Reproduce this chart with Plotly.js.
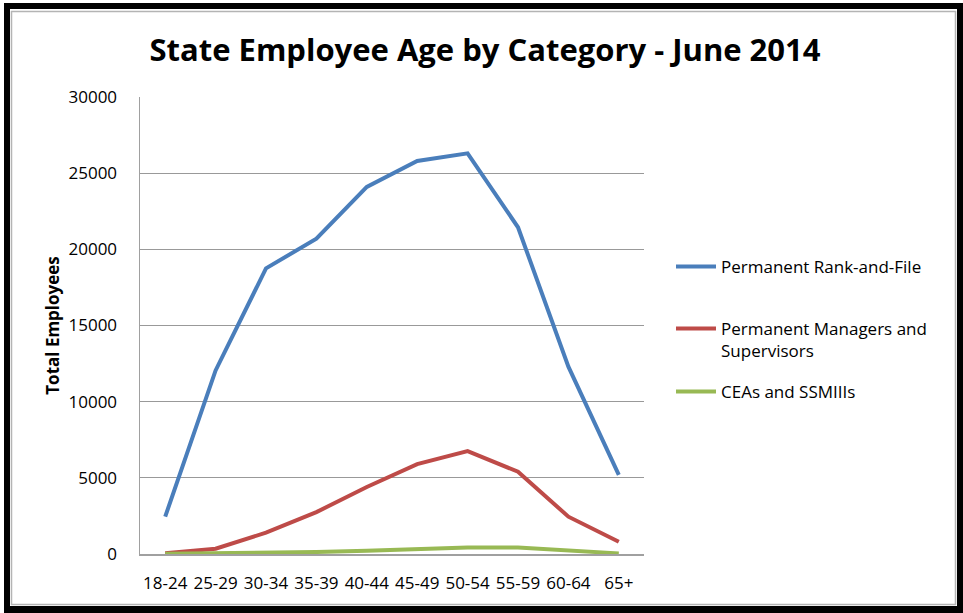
<!DOCTYPE html>
<html>
<head>
<meta charset="utf-8">
<script src="https://cdn.plot.ly/plotly-3.0.1.min.js"></script>
<style>
  html, body { margin: 0; padding: 0; background: #ffffff; }
  #chart { width: 963px; height: 613px; }
</style>
</head>
<body>
<div id="chart"></div>
<script>
// ---- data ----
const ageGroups = ['18-24', '25-29', '30-34', '35-39', '40-44', '45-49', '50-54', '55-59', '60-64', '65+'];
const rankAndFile = [2450, 12050, 18750, 20700, 24100, 25800, 26300, 21450, 12300, 5200];
const managersSupervisors = [50, 350, 1400, 2750, 4400, 5900, 6750, 5400, 2450, 800];
const ceasSsmiii = [10, 30, 60, 130, 220, 330, 430, 430, 220, 40];
const seriesNames = ['Permanent Rank-and-File', 'Permanent Managers and<br>Supervisors', 'CEAs and SSMIIIs'];
const yTickValues = [0, 5000, 10000, 15000, 20000, 25000, 30000];

// ---- layout geometry (pixels) ----
const W = 963, H = 613;
const L = 140, R = 644, T = 97, B = 554;
const px = x => (x - L) / (R - L);
const py = y => (B - y) / (B - T);

const FONT = 'Open Sans, Liberation Sans, sans-serif';

function trace(y, name, color, legendId) {
  return {
    type: 'scatter', mode: 'lines', x: ageGroups, y: y, name: name,
    line: { color: color, width: 4 }, legend: legendId,
    hoverinfo: 'x+y+name'
  };
}

const data = [
  trace(rankAndFile, seriesNames[0], '#4a7ebb', 'legend'),
  trace(managersSupervisors, seriesNames[1], '#be4b48', 'legend2'),
  trace(ceasSsmiii, seriesNames[2], '#98b954', 'legend3')
];

function legendAt(yCenter) {
  return {
    x: px(671), xanchor: 'left', y: py(yCenter), yanchor: 'middle',
    bgcolor: 'rgba(0,0,0,0)', borderwidth: 0, valign: 'top',
    font: { family: FONT, size: 17, color: '#000' }, itemwidth: 40
  };
}

// frame shapes (black outer border + thin gray inner line)
function rectPx(x0, y0, x1, y1, fill) {
  return { type: 'rect', xref: 'paper', yref: 'paper', layer: 'above',
    x0: px(x0), x1: px(x1), y0: py(y1), y1: py(y0),
    fillcolor: fill, line: { width: 0 } };
}
function linePx(x0, y0, x1, y1, color) {
  return { type: 'line', xref: 'paper', yref: 'paper', layer: 'above',
    x0: px(x0), x1: px(x1), y0: py(y0), y1: py(y1),
    line: { color: color, width: 1.5 } };
}

const shapes = [
  rectPx(4, 3, 963, 9, '#000'),
  rectPx(4, 3, 10, 613, '#000'),
  rectPx(957, 3, 963, 613, '#000'),
  rectPx(4, 606, 963, 613, '#000'),
  linePx(11.5, 11, 11.5, 605, '#b4b4b4'),
  linePx(11, 11.5, 956, 11.5, '#b4b4b4'),
  linePx(955.5, 11, 955.5, 605, '#b4b4b4'),
  linePx(11, 604.5, 956, 604.5, '#b4b4b4')
];

const layout = {
  width: W, height: H,
  margin: { l: L, r: W - R, t: T, b: H - B, pad: 0 },
  paper_bgcolor: '#ffffff', plot_bgcolor: '#ffffff',
  font: { family: FONT, color: '#000' },
  title: {
    text: '<b>State Employee Age by Category - June 2014</b>',
    font: { family: FONT, size: 31, color: '#000' },
    xref: 'container', yref: 'container',
    x: 485 / W, xanchor: 'center', y: 1 - 50 / H, yanchor: 'middle'
  },
  xaxis: {
    type: 'category', range: [-0.5, ageGroups.length - 0.5],
    showgrid: false, zeroline: false,
    showline: true, linecolor: '#a0a0a0', linewidth: 1.5,
    ticks: '', ticklabelstandoff: 13,
    tickfont: { family: FONT, size: 17, color: '#000' },
    fixedrange: true
  },
  yaxis: {
    range: [0, 30000], tickvals: yTickValues,
    ticktext: yTickValues.map(String),
    showgrid: true, gridcolor: '#999999', gridwidth: 1.2,
    zeroline: false, showline: true, linecolor: '#a0a0a0', linewidth: 1.5,
    ticks: '', ticklabelstandoff: 18,
    tickfont: { family: FONT, size: 17, color: '#000' },
    title: { text: '<b>Total Employees</b>', font: { family: FONT, size: 17, color: '#000' }, standoff: 4 },
    automargin: false, fixedrange: true
  },
  legend: legendAt(267),
  legend2: legendAt(340),
  legend3: legendAt(392),
  showlegend: true,
  shapes: shapes
};

Plotly.newPlot('chart', data, layout, { displayModeBar: false, staticPlot: true });
</script>
</body>
</html>
